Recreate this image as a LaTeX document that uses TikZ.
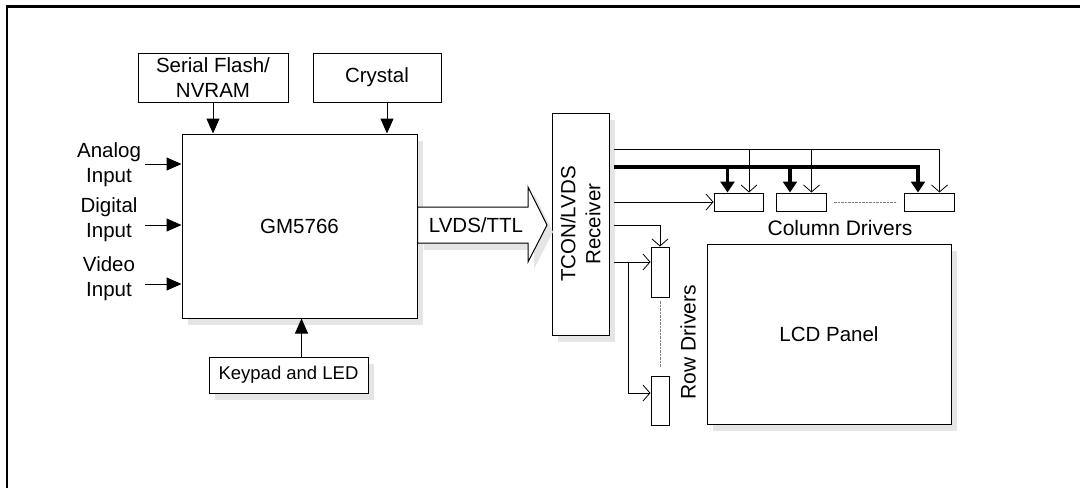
\documentclass[tikz,border=0pt]{standalone}
\usepackage{fontspec}
\setmainfont{Liberation Sans}
\usetikzlibrary{arrows.meta, calc, shadows}

\begin{document}
\begin{tikzpicture}[x=1pt, y=-1pt,
  every node/.style={font=\fontsize{20.5}{25}\selectfont, align=center},
  big/.style={font=\fontsize{21}{25}\selectfont},
  blk/.style={draw, line width=1pt, fill=white, inner sep=0pt},
  shd/.style={drop shadow={shadow xshift=6pt, shadow yshift=-7pt, fill=black!10, opacity=1}},
  sig/.style={line width=1pt, -{Triangle[length=15pt,width=13pt]}},
  wire/.style={line width=0.8pt, -{Straight Barb[length=7pt,width=16pt]}},
  bus/.style={line width=3.2pt, -{Triangle[length=11pt,width=14pt]}},
  fromrx/.style={shorten <=4pt},
  dots/.style={gray, line width=0.7pt, dash pattern=on 0.7pt off 0.7pt}]
  \useasboundingbox (0,0) rectangle (1080,488);

  % frame
  \draw[line width=2.6pt] (7,488) -- (7,6.5) -- (1080,6.5);

  % scaler chip and its neighbours
  \node[blk, minimum width=150pt, minimum height=49pt] (flash) at (213,77.5) {Serial Flash/\\NVRAM};
  \node[blk, minimum width=128pt, minimum height=49pt] (crystal) at (377,77.5) {Crystal};
  \node[blk, shd, minimum width=235pt, minimum height=184pt] (gm) at (299.5,226) {GM5766};
  \node[blk, shd, font=\fontsize{18.5}{24}\selectfont, minimum width=159pt, minimum height=36pt] (keypad) at (288.5,375) {Keypad and LED};

  \draw[sig] (flash.south) -- (flash.south |- gm.north);
  \coordinate (xtal) at ([xshift=10pt]crystal.south);
  \draw[sig] (xtal) -- (xtal |- gm.north);
  \coordinate (keys) at ([xshift=13pt]keypad.north);
  \draw[sig] (keys) -- (keys |- gm.south);

  % inputs
  \foreach \nm/\yy/\ly/\txt in {ain/164/165/Analog, din/225/220/Digital, vin/284/279/Video} {
    \coordinate (\nm) at (145,\yy);
    \node (\nm t) at (109,\ly) {\txt\\Input};
    \draw[sig] (\nm) -- (\nm -| gm.west);
  }

  % receiver
  \node[blk, shd, minimum width=57pt, minimum height=222pt] (rx) at (580.5,224) {};
  \node[rotate=90] (rxt) at (rx.center) {TCON/LVDS\\Receiver};

  % LVDS/TTL link
  \draw[line width=1pt, fill=white, shd] (gm.east |- 0,207) -- (528,207) -- (528,187)
    -- (547,225) -- (528,262) -- (528,243) -- (gm.east |- 0,243) -- cycle;
  \node (lvds) at (476,225) {LVDS/TTL};

  % column drivers
  \node[blk, minimum width=49pt, minimum height=18pt] (col1) at (738.5,202) {};
  \node[blk, minimum width=50pt, minimum height=18pt] (col2) at (801,202) {};
  \node[blk, minimum width=50pt, minimum height=18pt] (col3) at (929,202) {};
  \draw[dots] ([xshift=7pt]col2.east) -- ([xshift=-7pt]col3.west);
  \node[big] (coltxt) at (840,228) {Column Drivers};

  \coordinate (hthin) at (0,149);
  \coordinate (hbus) at (0,167);
  \foreach \c in {1,2,3} {
    \coordinate (c\c a) at ([xshift=-11pt]col\c.north);
    \coordinate (c\c b) at ([xshift=10.5pt]col\c.north);
  }
  \draw[wire, fromrx] (rx.east |- hthin) -| (c3b);
  \draw[wire] (c1b |- hthin) -- (c1b);
  \draw[wire] (c2b |- hthin) -- (c2b);
  \draw[bus, fromrx] (rx.east |- hbus) -| (c3a);
  \draw[bus] (c1a |- hbus) -- (c1a);
  \draw[bus] (c2a |- hbus) -- (c2a);
  \draw[wire, fromrx] (col1.west -| rx.east) -- (col1.west);

  % row drivers
  \node[blk, minimum width=18pt, minimum height=50pt] (row1) at (660,272) {};
  \node[blk, minimum width=18pt, minimum height=49pt] (row2) at (660,400.5) {};
  \draw[dots] ([yshift=-3pt]row1.south) -- ([yshift=9pt]row2.north);
  \node[big, rotate=90] (rowtxt) at (688,342) {Row Drivers};

  \coordinate (rtop) at (0,225);
  \coordinate (rmid) at (0,262);
  \coordinate (rbr) at (628,262);
  \draw[wire, fromrx] (rx.east |- rtop) -| (row1.north);
  \draw[wire, fromrx] (rx.east |- rmid) -- (row1.west |- rmid);
  \draw[wire] (rbr) |- (row2.west |- 0,393);

  % panel
  \node[blk, shd, minimum width=244pt, minimum height=180pt] (lcd) at (829,334) {LCD Panel};
\end{tikzpicture}
\end{document}
